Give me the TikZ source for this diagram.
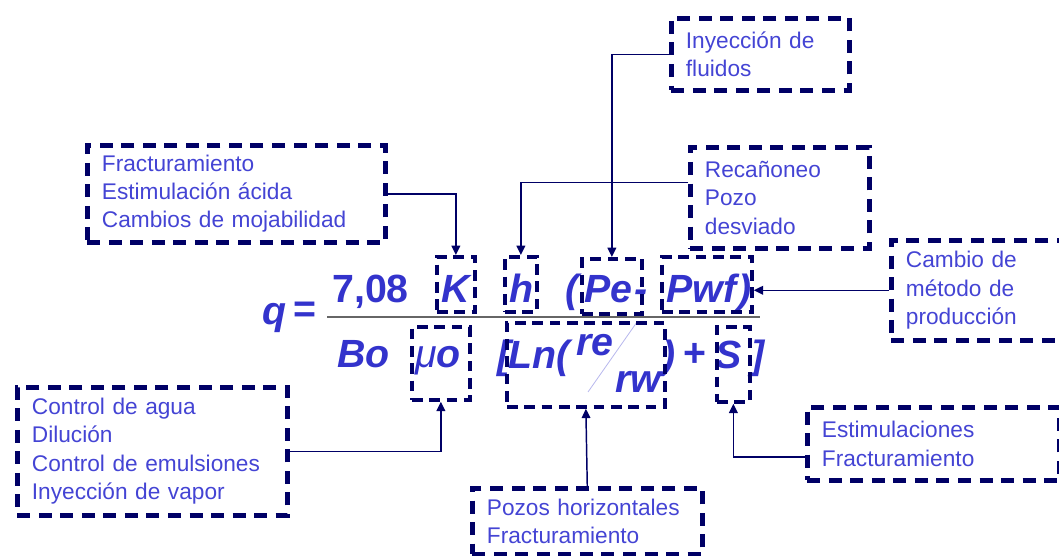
\documentclass[tikz,border=0pt]{standalone}
\usepackage{fontspec}
\setmainfont{Liberation Sans}
\usetikzlibrary{arrows.meta}
\definecolor{eqblue}{RGB}{51,51,204}
\definecolor{txtblue}{RGB}{68,68,212}
\definecolor{navy}{RGB}{0,0,102}

\begin{document}
\begin{tikzpicture}[x=0.75pt,y=-0.75pt,
  notebox/.style={draw=navy, line width=3.4pt, dash pattern=on 9.75pt off 6.4pt,
    anchor=north west, align=left, inner xsep=11pt, inner ysep=0pt,
    text=txtblue, font=\fontsize{17}{21.2}\selectfont},
  termbox/.style={draw=navy, line width=2.8pt, dash pattern=on 8pt off 5pt,
    anchor=north west, inner sep=0pt},
  eq/.style={anchor=base west, inner sep=0pt, text=eqblue,
    font=\fontsize{29.5}{29.5}\selectfont\bfseries\itshape},
  equp/.style={eq, font=\fontsize{29.5}{29.5}\selectfont\bfseries},
  link/.style={draw=navy, line width=1.1pt},
  arr/.style={link, -{Triangle[length=7pt,width=6.5pt]}}]

\useasboundingbox (0,0) rectangle (1059,556);
\clip (0,0) rectangle (1059,556);

% ---- productivity equation ----
\node[eq]   (q)    at (262,324) {q};
\node[equp] (eqs)  at (293,322) {=};
\node[equp] (c708) at (332,302) {7,08};
\node[eq]   (tK)   at (441,302) {K};
\node[eq]   (th)   at (509,302) {h};
\node[eq]   (lp)   at (565,302) {(};
\node[eq]   (tPe)  at (584,302) {Pe};
\node[eq]   (mn)   at (634,302) {-};
\node[eq]   (tPwf) at (666,302) {Pwf};
\node[eq]   (rp)   at (738,302) {)};
\draw[black!60, line width=1.6pt] (327,317) -- (760,317);
\node[eq]   (tBo)  at (337,367) {Bo};
\node[eq]   (tmu)  at (415,367) {{\mdseries μ}o};
\node[eq]   (lb)   at (497,368) {[};
\node[eq]   (tLn)  at (508,368) {Ln(};
\node[eq]   (tre)  at (576,355) {re};
\draw[eqblue!35, line width=0.6pt] (588,392) -- (637,322);
\node[eq]   (trw)  at (615,392) {rw};
\node[eq]   (rp2)  at (662,368) {)};
\node[equp] (plus) at (683,366) {+};
\node[eq]   (tS)   at (715,368) {S};
\node[eq]   (rb)   at (751,368) {]};

% ---- dashed frames around the terms ----
\node[termbox, minimum width=28.5pt,  minimum height=41.25pt] (kbox)   at (435,255) {};
\node[termbox, minimum width=24pt,    minimum height=41.25pt] (hbox)   at (503,255) {};
\node[termbox, minimum width=45pt,    minimum height=41.25pt] (pebox)  at (580,257) {};
\node[termbox, minimum width=67.5pt,  minimum height=41.25pt] (pwfbox) at (660,255) {};
\node[termbox, minimum width=43.5pt,  minimum height=54.75pt] (mubox)  at (410,325) {};
\node[termbox, minimum width=118.5pt, minimum height=63pt]    (lnbox)  at (505,321) {};
\node[termbox, minimum width=24.75pt, minimum height=56.25pt] (sbox)   at (715,325) {};

% ---- notes ----
\node[notebox, minimum width=133.5pt, minimum height=54pt, text width=111.5pt] (iny) at (669,16)
  {Inyección de\\fluidos};
\node[notebox, minimum width=223.5pt, minimum height=72.75pt, text width=201.5pt] (fract) at (85,143)
  {Fracturamiento\\Estimulación ácida\\Cambios de mojabilidad};
\node[notebox, minimum width=134.25pt, minimum height=75.75pt, text width=112.25pt] (reca) at (688,145)
  {Recañoneo\\Pozo\\desviado};
\node[notebox, minimum width=142.5pt, minimum height=75pt, text width=120.5pt] (cambio) at (889,238)
  {Cambio de\\método de\\producción};
\node[notebox, minimum width=202.5pt, minimum height=96pt, text width=180.5pt] (ctrl) at (15,385)
  {Control de agua\\Dilución\\Control de emulsiones\\Inyección de vapor};
\node[notebox, minimum width=189pt, minimum height=54.75pt, text width=167pt] (estim) at (805,405)
  {Estimulaciones\\Fracturamiento};
\node[notebox, minimum width=172.5pt, minimum height=49.5pt, text width=150.5pt] (pozos) at (470,486)
  {Pozos horizontales\\Fracturamiento};

% ---- connectors ----
\draw[arr] (fract.east) -| (kbox.north);
\draw[arr] ([yshift=11.6pt]reca.west) -| (hbox.north);
\draw[arr] (iny.west) -| (pebox.north);
\draw[arr] (cambio.west) -- (pwfbox.east |- cambio.west);
\draw[arr] (ctrl.east) -| (mubox.south);
\draw[arr] (pozos.north) -- (lnbox.south);
\draw[arr] ([yshift=-10pt]estim.west) -| (sbox.south);
\end{tikzpicture}
\end{document}
